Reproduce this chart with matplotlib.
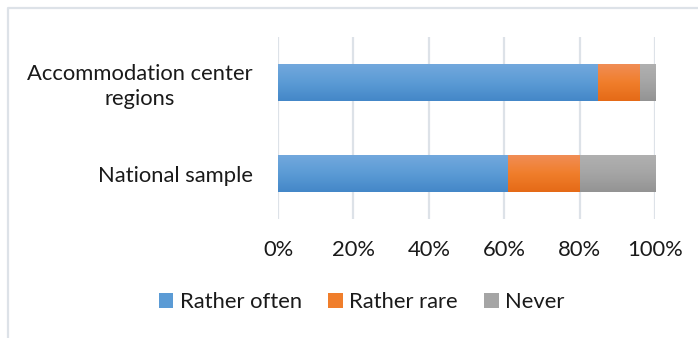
import numpy as np
import matplotlib
matplotlib.use("Agg")
import matplotlib.pyplot as plt
from matplotlib.lines import Line2D
from matplotlib.colors import LinearSegmentedColormap
from matplotlib.patches import Patch

plt.rcParams['font.family'] = ['Lato', 'DejaVu Sans']

categories = ["National sample", "Accommodation center\nregions"]
series_names = ["Rather often", "Rather rare", "Never"]
rather_often = [61, 85]
rather_rare = [19, 11]
never = [20, 4]
tick_labels = ["0%", "20%", "40%", "60%", "80%", "100%"]

# top / middle / bottom shades for the gradient fill of each series
shades = [
    ("#72A8DD", "#5B9BD5", "#4487C8"),
    ("#F18D55", "#F07E2B", "#E56A17"),
    ("#B0B0B0", "#A5A5A5", "#939393"),
]

FS = 15.8
W, H = 698, 338
fig = plt.figure(figsize=(W / 100, H / 100), dpi=100)
ax = fig.add_axes([278 / W, 1 - 219 / H, (655 - 278) / W, (219 - 37) / H])

y = np.arange(len(categories))
left = np.zeros(len(categories))
for vals, (c_top, c_mid, c_bot) in zip([rather_often, rather_rare, never], shades):
    vals = np.array(vals, dtype=float)
    cont = ax.barh(y, vals, left=left, height=0.4, color=c_mid, zorder=2)
    cmap = LinearSegmentedColormap.from_list("g", [c_bot, c_mid, c_top])
    grad = np.linspace(0, 1, 64).reshape(-1, 1)
    for rect in cont.patches:
        x0, y0 = rect.get_x(), rect.get_y()
        w, h = rect.get_width(), rect.get_height()
        ax.imshow(grad, cmap=cmap, aspect="auto", extent=(x0, x0 + w, y0 + h, y0),
                  origin="upper", zorder=3, interpolation="bilinear")
        rect.set_alpha(0)
    left = left + vals

ax.set_xlim(0, 100)
ax.set_ylim(-0.5, 1.5)
ax.set_xticks(np.linspace(0, 100, len(tick_labels)))
ax.set_xticklabels(tick_labels, fontsize=FS, color="#1a1a1a")
ax.set_yticks(y)
ax.set_yticklabels(categories, fontsize=FS, color="#1a1a1a", multialignment="center",
                   linespacing=1.3)
ax.tick_params(axis="both", length=0)
ax.tick_params(axis="x", pad=15)
ax.tick_params(axis="y", pad=18)
ax.grid(axis="x", color="#DDE2E8", linewidth=1.6, zorder=0)
ax.set_axisbelow(True)
for s in ax.spines.values():
    s.set_visible(False)

handles = [Patch(facecolor=s[1], edgecolor="none") for s in shades]
fig.legend(handles, series_names, loc="center", bbox_to_anchor=(361.5 / W, 1 - 302 / H),
           ncol=3, frameon=False, fontsize=FS, handlelength=0.68, handleheight=0.68,
           handletextpad=0.28, columnspacing=1.2, labelcolor="#1a1a1a")

# outer chart frame (open to the right and bottom)
fig.add_artist(Line2D([8 / W, 8 / W, 1.0], [0.0, 1 - 8 / H, 1 - 8 / H],
                      transform=fig.transFigure, color="#DDE2E8", linewidth=1.6))

fig.savefig("out.png", dpi=100)
